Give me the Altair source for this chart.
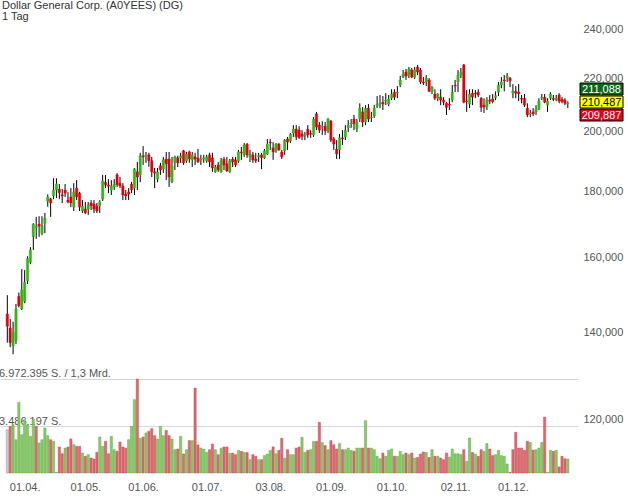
import altair as alt
import pandas as pd
import numpy as np

# ---------------- data ----------------
open_ = [144.8, 141.2, 136.8, 138.1, 149.4, 146.1, 148.1, 153.5, 158.7, 166.1,
         168.8, 169.8, 167.0, 170.0, 176.8, 177.6, 178.5, 180.4, 180.7, 178.9,
         180.4, 177.2, 178.2, 175.0, 181.0, 179.4, 173.8, 174.4, 174.4, 176.3,
         176.0, 175.4, 175.4, 177.5, 182.9, 182.0, 180.4, 181.4,
         185.3, 182.6, 181.7, 179.1, 179.8, 182.3, 181.0, 186.3, 185.3, 191.7,
         191.7, 192.0, 190.0, 186.3, 183.9, 188.3, 187.2, 190.6, 190.6, 183.0,
         189.3, 191.0, 191.0, 193.4, 189.9, 193.0, 190.3, 191.3, 190.9, 190.0,
         190.6, 189.9,
         192.0, 191.0, 186.3, 188.6, 186.3, 190.6, 189.0, 186.3, 190.6, 190.3,
         189.9, 193.0, 192.0, 195.7, 191.3, 192.0, 190.6, 191.3, 192.0, 191.0,
         192.3, 196.4, 194.4, 193.4, 195.7, 193.0, 193.4, 197.5, 196.8, 199.6,
         201.0, 200.6, 199.3, 198.5, 201.0, 199.4, 198.9, 206.5, 202.4, 201.7,
         202.0, 200.3, 203.9, 197.5, 194.0, 193.7, 197.9, 198.2, 201.4, 202.8,
         204.6, 201.0, 204.6, 207.2, 203.5, 208.6, 205.0, 205.7, 209.3, 210.1,
         210.8, 211.2, 210.1, 212.3, 214.6, 214.2,
         217.3, 220.4, 222.4, 221.2, 223.2, 220.4, 224.4, 223.2, 218.5, 218.5,
         219.3, 214.9, 213.9, 212.3, 212.7, 211.6, 210.4, 210.1, 211.6, 217.3,
         218.5, 221.2, 225.2, 211.2, 210.1, 214.2, 214.2, 214.6, 212.3, 209.7,
         209.0, 211.6, 212.0, 212.5, 214.6, 217.3, 219.3, 220.0, 220.0, 214.2,
         214.9, 214.6, 212.3, 212.3, 208.6, 206.5, 207.2, 207.2, 208.2, 212.3,
         212.7, 209.7, 212.3, 212.3, 211.6, 213.5, 211.9, 211.6, 210.1]
high_ = [149.7, 143.5, 142.8, 147.4, 150.4, 156.8, 156.5, 160.4, 163.0, 170.1,
         172.0, 172.2, 172.2, 173.2, 179.0, 177.9, 184.2, 184.2, 182.3, 180.7,
         182.3, 179.7, 181.0, 182.6, 183.6, 179.8, 177.2, 176.6, 176.6, 177.2,
         177.2, 176.3, 177.2, 185.3, 185.3, 183.9, 183.6, 183.9,
         185.9, 184.6, 182.6, 180.4, 181.0, 183.0, 187.6, 189.6, 192.7, 195.0,
         193.0, 192.7, 191.3, 187.6, 187.6, 189.3, 191.3, 193.0, 193.0, 191.3,
         191.7, 191.7, 192.7, 193.7, 193.0, 193.4, 193.0, 192.7, 194.0, 192.0,
         192.0, 192.0,
         192.7, 192.7, 188.6, 189.6, 191.0, 191.3, 191.3, 190.6, 191.3, 191.3,
         193.7, 194.7, 196.1, 196.1, 193.7, 193.0, 192.7, 192.7, 192.7, 194.0,
         197.5, 197.5, 196.4, 196.1, 196.1, 193.7, 197.5, 198.2, 199.6, 202.4,
         202.4, 202.0, 200.6, 200.0, 202.4, 200.6, 205.3, 207.2, 203.5, 203.8,
         203.5, 205.0, 204.2, 198.2, 197.1, 199.2, 200.6, 202.4, 204.2, 204.6,
         206.1, 204.6, 210.4, 209.0, 209.7, 210.1, 207.2, 209.7, 213.1, 213.5,
         213.1, 214.2, 213.5, 215.7, 215.7, 216.9,
         220.9, 223.2, 223.6, 224.4, 224.0, 224.4, 225.2, 224.0, 220.4, 221.2,
         220.0, 216.9, 215.7, 214.2, 215.7, 212.7, 210.8, 212.3, 217.3, 219.3,
         223.2, 224.0, 225.6, 215.4, 215.7, 215.7, 215.4, 215.7, 212.7, 212.3,
         212.7, 213.5, 213.9, 214.9, 218.5, 220.4, 221.2, 222.0, 220.4, 217.7,
         216.9, 217.7, 213.5, 213.9, 210.4, 207.9, 208.6, 209.7, 212.3, 213.9,
         213.9, 212.3, 214.6, 213.5, 213.5, 214.2, 212.7, 212.3, 211.1]
low_ = [137.6, 136.5, 134.8, 137.3, 146.5, 145.8, 147.6, 152.7, 158.2, 162.2,
        165.4, 166.0, 166.5, 167.1, 175.1, 172.0, 177.5, 177.8, 177.5, 176.3,
        178.2, 176.2, 175.0, 173.8, 177.2, 173.8, 173.2, 172.9, 172.6, 174.1,
        173.2, 173.2, 173.2, 176.9, 181.0, 179.4, 178.8, 180.4,
        181.4, 181.0, 177.2, 177.2, 177.2, 179.4, 178.8, 180.4, 182.9, 188.6,
        189.3, 188.0, 184.6, 181.0, 182.9, 185.3, 185.9, 183.6, 181.4, 182.6,
        186.9, 187.9, 189.3, 188.6, 189.3, 189.3, 187.9, 188.6, 189.3, 188.6,
        189.3, 189.3,
        187.9, 186.3, 186.0, 186.3, 186.0, 186.9, 186.3, 186.0, 187.9, 187.9,
        189.3, 190.3, 191.3, 191.0, 189.6, 189.3, 189.3, 189.6, 187.2, 190.6,
        192.0, 193.7, 190.3, 192.7, 193.4, 190.6, 192.0, 193.7, 196.1, 198.2,
        197.1, 197.5, 197.1, 197.1, 197.9, 197.9, 198.2, 200.6, 199.6, 198.9,
        198.9, 199.6, 196.4, 193.7, 190.6, 190.6, 195.4, 197.1, 199.9, 201.4,
        200.6, 199.9, 203.5, 201.7, 202.4, 203.5, 203.5, 205.0, 208.6, 208.6,
        207.9, 209.7, 209.3, 211.6, 211.6, 212.3,
        216.5, 220.0, 219.3, 220.0, 220.0, 219.7, 221.2, 217.7, 217.3, 216.9,
        214.6, 213.9, 211.6, 211.2, 209.7, 209.7, 206.1, 207.9, 210.8, 214.6,
        214.6, 220.0, 210.4, 207.2, 208.6, 209.7, 212.3, 212.7, 207.2, 206.8,
        207.9, 210.1, 210.4, 211.6, 213.1, 216.1, 214.9, 218.5, 216.5, 212.3,
        212.3, 211.2, 210.4, 209.0, 205.3, 205.3, 205.7, 206.1, 207.9, 211.6,
        210.4, 207.2, 211.6, 211.2, 211.2, 210.4, 210.4, 209.7, 208.6]
close_ = [141.7, 137.6, 140.2, 146.1, 146.9, 151.1, 153.2, 159.8, 162.2, 169.8,
          169.1, 169.2, 169.4, 171.6, 178.2, 176.3, 180.4, 182.3, 179.5, 178.5,
          179.4, 176.6, 176.3, 179.8, 178.2, 175.0, 175.3, 173.2, 175.7, 175.4,
          174.4, 173.8, 176.6, 183.3, 182.0, 181.6, 181.7, 182.3,
          182.1, 181.7, 178.8, 178.5, 179.1, 180.4, 187.3, 184.6, 191.7, 191.3,
          192.0, 190.0, 186.3, 185.9, 186.3, 186.9, 190.3, 189.0, 184.6, 188.3,
          191.3, 189.3, 191.7, 189.3, 192.3, 190.6, 192.0, 190.6, 189.6, 190.6,
          191.0, 191.3,
          189.6, 187.6, 187.9, 186.9, 190.0, 188.6, 186.6, 190.0, 189.6, 188.6,
          193.0, 192.7, 195.4, 192.0, 192.3, 190.3, 190.0, 191.7, 191.0, 193.4,
          195.7, 196.1, 193.0, 195.7, 193.7, 191.3, 197.1, 196.4, 199.2, 201.0,
          198.2, 198.0, 198.4, 199.0, 198.9, 199.2, 204.6, 201.7, 200.6, 202.0,
          200.3, 204.6, 197.1, 195.7, 192.3, 197.9, 197.5, 200.6, 202.4, 203.1,
          202.9, 203.5, 208.6, 203.5, 208.6, 204.6, 205.3, 208.6, 210.1, 210.4,
          210.1, 211.6, 212.0, 213.9, 212.7, 214.6,
          219.3, 221.6, 220.8, 223.6, 220.4, 223.2, 222.4, 218.5, 218.1, 220.0,
          214.9, 216.5, 212.3, 213.9, 211.6, 210.8, 208.9, 209.7, 214.6, 216.9,
          221.2, 222.4, 210.8, 211.0, 213.9, 212.7, 213.9, 213.5, 208.9, 209.0,
          211.6, 211.2, 211.0, 213.3, 217.3, 218.5, 218.9, 220.8, 218.9, 215.0,
          214.2, 214.0, 211.9, 209.7, 206.1, 206.8, 206.5, 208.2, 211.2, 212.7,
          210.8, 211.2, 213.9, 211.9, 212.3, 211.2, 211.0, 210.4, 210.49]
volume_mio = [3.21, 3.46, 3.58, 2.47, 5.24, 2.84, 3.96, 3.58, 2.72, 4.00,
              3.46, 2.22, 2.47, 3.34, 2.77, 2.47, 2.35, 0.05, 1.93, 1.43,
              1.85, 1.93, 2.52, 2.10, 1.98, 1.98, 1.48, 1.24, 1.36, 1.11,
              1.04, 1.53, 2.67, 1.98, 2.35, 1.43, 2.72, 1.73, 1.61, 2.30,
              1.93, 1.85, 2.47, 3.46, 5.44, 6.97, 2.57, 2.67, 2.97, 3.09,
              3.29, 2.77, 2.52, 3.46, 2.77, 3.16, 2.77, 2.52, 1.73, 1.78,
              2.72, 1.41, 1.73, 2.40, 2.40, 6.30, 2.08, 1.85, 1.78, 1.53,
              1.73, 2.15, 1.73, 1.36, 1.85, 1.93, 1.93, 1.46, 1.48, 1.36,
              1.68, 1.61, 1.53, 1.53, 0.99, 1.36, 1.24, 0.99, 0.99, 1.29,
              1.41, 1.68, 1.93, 1.43, 1.68, 2.57, 1.11, 1.73, 1.36, 1.36,
              1.85, 1.93, 2.65, 1.53, 1.68, 1.73, 2.35, 2.35, 3.76, 2.27,
              2.03, 1.73, 2.40, 2.10, 1.78, 2.18, 1.73, 1.73, 1.85, 1.68,
              1.61, 1.85, 1.85, 1.85, 3.88, 1.85, 1.85, 1.73, 1.24, 1.06,
              1.48, 1.24, 1.68, 1.78, 1.24, 1.24, 1.61, 1.36, 1.48, 1.36,
              1.48, 1.11, 1.16, 1.41, 1.56, 1.53, 1.16, 1.73, 1.24, 1.24,
              1.11, 0.99, 1.48, 1.19, 1.78, 1.43, 1.43, 1.36, 1.73, 0.87,
              2.60, 1.53, 1.41, 1.24, 1.73, 1.61, 2.18, 1.78, 1.29, 1.36,
              1.68, 1.29, 1.24, 0.67, 0.05, 1.73, 3.02, 1.85, 1.85, 1.68,
              2.35, 2.27, 1.70, 1.73, 1.85, 2.27, 4.15, 0.05, 1.68, 1.61,
              1.68, 0.45, 1.24, 1.06, 1.04]

title_lines = ["Dollar General Corp. (A0YEES) (DG)", "1 Tag"]
vol_max = 6972395
vol_labels = ["6.972.395 S. / 1,3 Mrd.", "3.486.197 S."]
quotes = [211.088, 210.487, 209.887]
price_ticks = [120, 140, 160, 180, 200, 220, 240]
label_dates = ["2020-04-01", "2020-05-01", "2020-06-01", "2020-07-01", "2020-08-03",
               "2020-09-01", "2020-10-01", "2020-11-02", "2020-12-01"]

# trading calendar (NYSE, 2020)
holidays = {"2020-04-10", "2020-05-25", "2020-07-03", "2020-09-07", "2020-11-26"}
dates = [d.strftime("%Y-%m-%d") for d in pd.bdate_range("2020-03-24", "2020-12-29")
         if d.strftime("%Y-%m-%d") not in holidays]

n = min(len(dates), len(open_), len(high_), len(low_), len(close_), len(volume_mio))
df = pd.DataFrame({
    "i": list(range(n)),
    "date": dates[:n],
    "o": open_[:n], "h": high_[:n], "l": low_[:n], "c": close_[:n],
    "vol": [v * 1e6 for v in volume_mio[:n]],
})
# volume colour follows the change versus the previous close
df["pc"] = df["c"].shift(1).fillna(df["c"])

tick_pos = [dates.index(d) for d in label_dates if d in dates]
tick_lab = [pd.Timestamp(dates[p]).strftime("%d.%m.") for p in tick_pos]
label_expr = "".join(f"datum.value == {p} ? '{l}' : " for p, l in zip(tick_pos, tick_lab)) + "''"

FONT = "Liberation Sans"
W, H = 578, 473

xscale = alt.Scale(domain=[-0.8, 195.8], nice=False, zero=False)
x_axis = alt.Axis(values=tick_pos, labelExpr=label_expr, grid=False, ticks=False,
                  domain=False, labelFontSize=11, labelColor="#555555", labelFont=FONT,
                  labelPadding=8, title=None, labelFlush=False, orient="bottom")
X = alt.X("i:Q", scale=xscale, axis=x_axis)

base = alt.Chart(df)


def by_test(up_test, down_test, up, down, flat):
    return {"condition": [{"test": up_test, "value": up}, {"test": down_test, "value": down}],
            "value": flat}


# ---- volume panel ----
vscale = alt.Scale(domain=[0, vol_max * H / 94], nice=False, zero=True)
vol_axis = alt.Axis(orient="left", values=[vol_max / 2, vol_max], grid=True,
                    gridColor="#d6d6d6", gridWidth=1, labels=False, ticks=False,
                    domain=False, title=None)
VUP, VDOWN = "datum.c > datum.pc", "datum.c < datum.pc"
vol_bars = base.mark_bar(size=2.2, strokeWidth=0.5).encode(
    x=X,
    y=alt.Y("vol:Q", scale=vscale, axis=vol_axis),
    fill=by_test(VUP, VDOWN, "#88cc68", "#de6b72", "#cccccc"),
    stroke=by_test(VUP, VDOWN, "#5fa743", "#c2474e", "#999999"),
)

vol_text1 = alt.Chart(pd.DataFrame({"t": [vol_labels[0]]})).mark_text(
    align="left", baseline="alphabetic", fontSize=11, font=FONT, color="#555555"
).encode(x=alt.value(-1), y=alt.value(377), text="t:N")
vol_text2 = alt.Chart(pd.DataFrame({"t": [vol_labels[1]]})).mark_text(
    align="left", baseline="alphabetic", fontSize=11, font=FONT, color="#555555"
).encode(x=alt.value(-1), y=alt.value(425), text="t:N")

# ---- price panel ----
pscale = alt.Scale(type="log", domain=[109.2, 252.7], nice=False)
price_axis = alt.Axis(orient="right", values=price_ticks,
                      labelExpr="replace(format(datum.value, '.3f'), '.', ',')",
                      grid=False, ticks=False, domain=False, labelFontSize=11,
                      labelFont=FONT, labelColor="#555555", labelPadding=5, title=None)
UP, DOWN = "datum.c > datum.o", "datum.c < datum.o"
wicks = base.mark_rule(color="#000000", strokeWidth=1).encode(
    x=X,
    y=alt.Y("l:Q", scale=pscale, axis=price_axis),
    y2="h:Q",
)
bodies = base.mark_bar(size=2.4, strokeWidth=0.4).encode(
    x=X,
    y=alt.Y("o:Q", scale=pscale, axis=price_axis),
    y2="c:Q",
    fill=by_test(UP, DOWN, "#36b31a", "#e00010", "#777777"),
    stroke=by_test(UP, DOWN, "#36b31a", "#e00010", "#777777"),
)
price_layer = alt.layer(wicks, bodies)

# ---- title ----
t1 = alt.Chart(pd.DataFrame({"t": [title_lines[0]]})).mark_text(
    align="left", baseline="alphabetic", fontSize=11, font=FONT, color="#333333"
).encode(x=alt.value(2), y=alt.value(9), text="t:N")
t2 = alt.Chart(pd.DataFrame({"t": [title_lines[1]]})).mark_text(
    align="left", baseline="alphabetic", fontSize=11, font=FONT, color="#333333"
).encode(x=alt.value(2), y=alt.value(19.5), text="t:N")

# ---- last-quote boxes ----
box_fill = ["#0b6a14", "#ffff00", "#e3001b"]
box_text = ["#ffffff", "#000000", "#ffffff"]
boxes = []
for k, (q, fc, tc) in enumerate(zip(quotes, box_fill, box_text)):
    y0 = 83 + 13 * k
    qdf = pd.DataFrame({"t": [f"{q:.3f}".replace(".", ",")]})
    boxes.append(alt.Chart(qdf).mark_rect(fill=fc, stroke="#000000", strokeWidth=1).encode(
        x=alt.value(580), x2=alt.value(623), y=alt.value(y0), y2=alt.value(y0 + 12)))
    boxes.append(alt.Chart(qdf).mark_text(
        align="center", baseline="middle", fontSize=11, font=FONT, color=tc
    ).encode(x=alt.value(601.5), y=alt.value(y0 + 6.5), text="t:N"))

chart = alt.layer(
    vol_text1, vol_text2, vol_bars, price_layer, t1, t2, *boxes
).resolve_scale(y="independent").properties(
    width=W, height=H,
    padding={"left": 0, "top": 0, "right": 50, "bottom": 26},
    autosize=alt.AutoSizeParams(type="none"),
    background="#ffffff",
).configure_view(stroke=None)

chart.save("out.html", embed_options={"renderer": "svg", "actions": False})
